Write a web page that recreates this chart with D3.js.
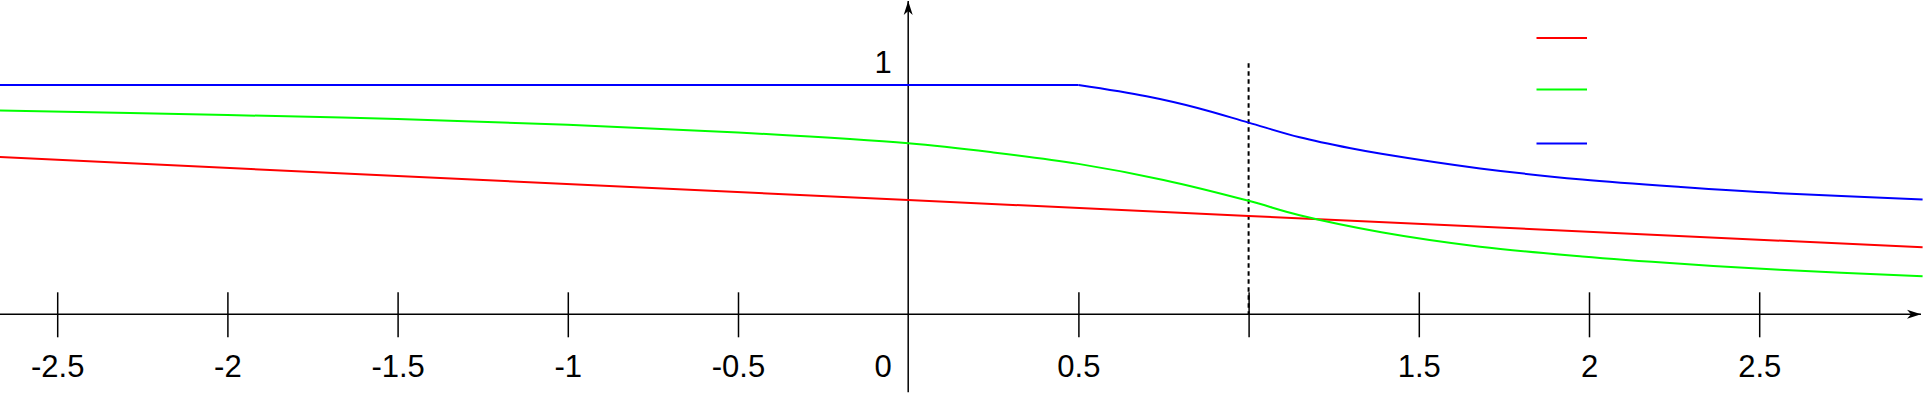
<!DOCTYPE html>
<html>
<head>
<meta charset="utf-8">
<script src="https://cdn.jsdelivr.net/npm/d3@7"></script>
<style>
  html, body { margin: 0; padding: 0; background: #fff; }
  svg { display: block; }
  text { font-family: "Liberation Sans", Arial, sans-serif; font-size: 31px; fill: #000; }
</style>
</head>
<body>
<svg id="chart" width="1923" height="400"></svg>
<script>
const width = 1923, height = 400;

// x ticks on the horizontal axis (0 is drawn by the vertical axis, 1 has no label)
const tickValues = [-2.5, -2, -1.5, -1, -0.5, 0.5, 1, 1.5, 2, 2.5];
const tickLabels = ['-2.5', '-2', '-1.5', '-1', '-0.5', '0.5', '', '1.5', '2', '2.5'];

// red: nearly straight line
const redX = [-2.67, -1.5, 0, 1, 2.98];
const redY = [0.686, 0.603, 0.498, 0.429, 0.292];

// green: slow decline, steepest near x = 1
const greenX = [-2.67, -2, -1.5, -1, -0.5, 0, 0.25, 0.5, 0.75, 1, 1.15, 1.39, 1.68, 1.98, 2.27, 2.56, 2.98];
const greenY = [0.889, 0.869, 0.852, 0.827, 0.793, 0.746, 0.706, 0.656, 0.586, 0.495, 0.432, 0.358, 0.295, 0.252, 0.220, 0.194, 0.166];

// blue: flat at 1 up to x = 0.5, then decays
const blueFlatX = [-2.67, 0.5];
const blueFlatY = [1, 1];
const blueX = [0.5, 0.7, 0.85, 1, 1.15, 1.3, 1.39, 1.68, 1.98, 2.27, 2.56, 2.98];
const blueY = [1, 0.951, 0.900, 0.836, 0.772, 0.724, 0.700, 0.636, 0.588, 0.555, 0.528, 0.501];

const legendColors = ['#ff0000', '#00ff00', '#0000ff'];

const x = d3.scaleLinear().domain([-2.5, 2.5]).range([57.2, 1759.2]);
const y = d3.scaleLinear().domain([0, 1]).range([314.3, 85]);

const svg = d3.select('#chart');

// arrow heads
const defs = svg.append('defs');
defs.append('marker')
    .attr('id', 'arrow')
    .attr('viewBox', '-14 -5 15 10')
    .attr('refX', 0).attr('refY', 0)
    .attr('markerWidth', 15).attr('markerHeight', 10)
    .attr('markerUnits', 'userSpaceOnUse')
    .attr('orient', 'auto')
  .append('path')
    .attr('d', 'M0,0 L-14,-4.5 L-10,0 L-14,4.5 Z')
    .attr('fill', '#000');

// x axis ticks
const xAxis = d3.axisBottom(x)
    .tickValues(tickValues)
    .tickSize(45)
    .tickFormat((d, i) => tickLabels[i]);

const gx = svg.append('g')
    .attr('transform', 'translate(0,' + y(0) + ')')
    .call(xAxis);
gx.select('.domain').remove();
gx.selectAll('.tick line')
    .attr('y1', -22).attr('y2', 23)
    .attr('stroke', '#000').attr('stroke-width', 1.5);
gx.selectAll('.tick text')
    .attr('y', 63).attr('dy', 0)
    .attr('font-size', null).attr('font-family', null)
    .style('font-size', '31px');

// axis lines
svg.append('line')
    .attr('x1', 0).attr('x2', 1921)
    .attr('y1', y(0)).attr('y2', y(0))
    .attr('stroke', '#000').attr('stroke-width', 1.5)
    .attr('marker-end', 'url(#arrow)');
svg.append('line')
    .attr('x1', x(0)).attr('x2', x(0))
    .attr('y1', y(-0.34)).attr('y2', 1)
    .attr('stroke', '#000').attr('stroke-width', 1.5)
    .attr('marker-end', 'url(#arrow)');

// axis labels for 0 and 1
svg.append('text')
    .attr('x', x(0) - 25).attr('y', 377)
    .attr('text-anchor', 'middle')
    .text('0');
svg.append('text')
    .attr('x', x(0) - 25).attr('y', y(1) - 12)
    .attr('text-anchor', 'middle')
    .text('1');

// dashed line at x = 1
svg.append('line')
    .attr('x1', x(1)).attr('x2', x(1))
    .attr('y1', y(1.095)).attr('y2', y(0))
    .attr('stroke', '#000').attr('stroke-width', 2)
    .attr('stroke-dasharray', '4.5,3.5');

function drawSeries(xs, ys, color, curve) {
  const pts = xs.map((v, i) => [v, ys[i]]);
  const line = d3.line()
      .x(d => x(d[0]))
      .y(d => y(d[1]))
      .curve(curve);
  svg.append('path')
      .attr('d', line(pts))
      .attr('fill', 'none')
      .attr('stroke', color)
      .attr('stroke-width', 2);
}

drawSeries(redX, redY, legendColors[0], d3.curveLinear);
drawSeries(greenX, greenY, legendColors[1], d3.curveCatmullRom.alpha(0.5));
drawSeries(blueFlatX, blueFlatY, legendColors[2], d3.curveLinear);
drawSeries(blueX, blueY, legendColors[2], d3.curveCatmullRom.alpha(0.5));

// legend (lines only)
const legendY = [38, 89.5, 143.5];
svg.selectAll('.legend')
    .data(legendColors)
  .enter().append('line')
    .attr('class', 'legend')
    .attr('x1', 1536.5).attr('x2', 1587)
    .attr('y1', (d, i) => legendY[i]).attr('y2', (d, i) => legendY[i])
    .attr('stroke', d => d)
    .attr('stroke-width', 2);
</script>
</body>
</html>
